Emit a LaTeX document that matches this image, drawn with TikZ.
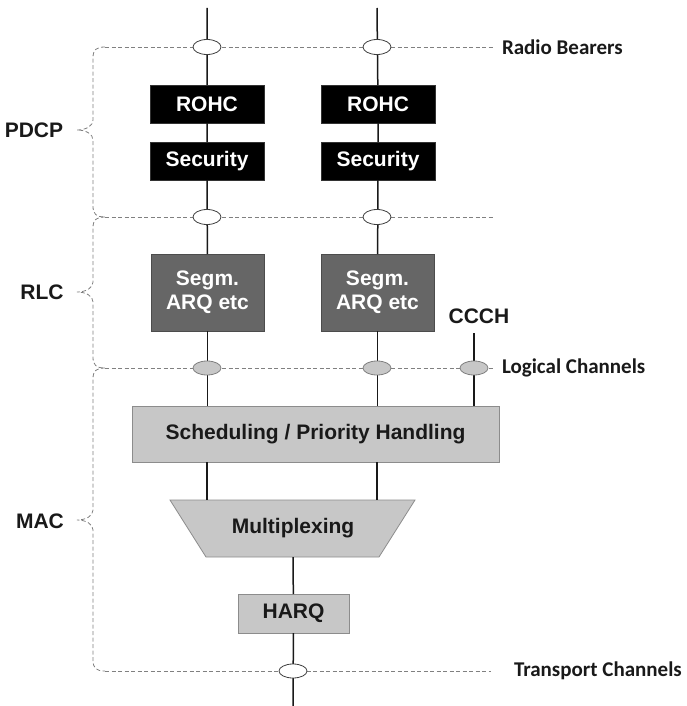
\documentclass[tikz,border=0pt]{standalone}
\usepackage{fontspec}
\setmainfont{Liberation Sans}
\newfontfamily\calfont{Carlito}
\usetikzlibrary{shapes.geometric}
\begin{document}
\begin{tikzpicture}[x=1pt,y=-1pt,
  every node/.style={inner sep=0pt,outer sep=0pt,font=\fontsize{21}{25}\selectfont\bfseries},
  link/.style={draw=black!90,line width=1.5pt},
  layer/.style={draw=black!50,line width=0.8pt,dash pattern=on 4pt off 2.5pt},
  blackbox/.style={draw=black!80,fill=black,text=white,minimum width=114pt,minimum height=38pt},
  darkbox/.style={draw=black!70,fill=black!60,text=white,minimum width=113pt,minimum height=77pt,align=center},
  greybox/.style={draw=black!45,fill=black!22,text=black!90,line width=0.8pt},
  sap/.style={ellipse,draw=black!75,fill=white,line width=0.8pt,minimum width=28pt,minimum height=15pt},
  lsap/.style={ellipse,draw=black!50,fill=black!22,line width=0.8pt,minimum width=28pt,minimum height=14pt},
  chan/.style={font=\fontsize{21}{25}\selectfont\calfont\bfseries,anchor=west,text=black!90},
  layerlabel/.style={text=black!90}]
\useasboundingbox (0,0) rectangle (687,706);

% curly braces grouping the protocol layers
\draw[layer] (105,47) .. controls (96,47) and (93,50) .. (93,58) -- (93,120)
  .. controls (93,126) and (86,130) .. (77,130) .. controls (86,130) and (93,134) .. (93,140)
  -- (93,206) .. controls (93,214) and (96,217) .. (105,217);
\draw[layer] (105,217) .. controls (96,217) and (93,220) .. (93,228) -- (93,282)
  .. controls (93,288) and (86,292) .. (77,292) .. controls (86,292) and (93,296) .. (93,302)
  -- (93,357) .. controls (93,365) and (96,368) .. (105,368);
\draw[layer] (105,368) .. controls (96,368) and (93,371) .. (93,379) -- (93,510)
  .. controls (93,516) and (86,520) .. (77,520) .. controls (86,520) and (93,524) .. (93,530)
  -- (93,660) .. controls (93,668) and (96,671) .. (105,671);

\node[layerlabel] (pdcp) at (34,130) {PDCP};
\node[layerlabel] (rlc) at (42,292) {RLC};
\node[layerlabel] (mac) at (40,521) {MAC};

% service access point levels
\draw[layer] (105,47) -- (493,47);
\draw[layer] (105,217) -- (493,217);
\draw[layer] (105,368) -- (493,368);
\draw[layer] (105,671) -- (491,671);

\node[chan] (rb) at (502,47) {Radio Bearers};
\node[chan] (lch) at (502,368) {Logical Channels};
\node[chan] (tch) at (514,671) {Transport Channels};

% processing blocks
\coordinate (t1) at (207,8);
\coordinate (t2) at (377,8);
\node[blackbox] (rohc1) at (207,104) {ROHC};
\node[blackbox] (rohc2) at (378,104) {ROHC};
\node[blackbox] (sec1) at (207,161) {Security};
\node[blackbox] (sec2) at (378,161) {Security};
\node[darkbox] (seg1) at (207.5,292.5) {Segm.\\[-1pt]ARQ etc};
\node[darkbox] (seg2) at (377.5,292.5) {Segm.\\[-1pt]ARQ etc};
\node[text=black!90] (ccch) at (479,316) {CCCH};
\coordinate (ctop) at (474,333);
\node[greybox,minimum width=367pt,minimum height=56pt] (sched) at (315.5,434) {Scheduling / Priority Handling};
\draw[greybox] (170,500) -- (415,500) -- (379,557) -- (206,557) -- cycle;
\node[text=black!90] (mux) at (293,528) {Multiplexing};
\coordinate (mt1) at (207,500);
\coordinate (mt2) at (377,500);
\coordinate (mb) at (293,557);
\node[greybox,minimum width=111pt,minimum height=39pt] (harq) at (293.5,613.5) {HARQ};
\coordinate (bot) at (293,706);

% channel links
\draw[link] (t1) -- (rohc1) -- (sec1) -- (seg1);
\draw[link] (t2) -- (rohc2) -- (sec2) -- (seg2);
\draw[link] (seg1) -- (seg1 |- sched.north);
\draw[link] (seg2) -- (seg2 |- sched.north);
\draw[link] (ctop) -- (ctop |- sched.north);
\draw[link] (mt1 |- sched.south) -- (mt1);
\draw[link] (mt2 |- sched.south) -- (mt2);
\draw[link] (mb) -- (harq) -- (bot);

% access points on top of the links
\node[sap] (rb1) at (207,47) {};
\node[sap] (rb2) at (377,47) {};
\node[sap] (rl1) at (207,217) {};
\node[sap] (rl2) at (377,217) {};
\node[lsap] (lc1) at (207,368) {};
\node[lsap] (lc2) at (377,368) {};
\node[lsap] (lc3) at (474,368) {};
\node[sap,minimum height=14pt] (tc) at (293,671) {};
\end{tikzpicture}
\end{document}
